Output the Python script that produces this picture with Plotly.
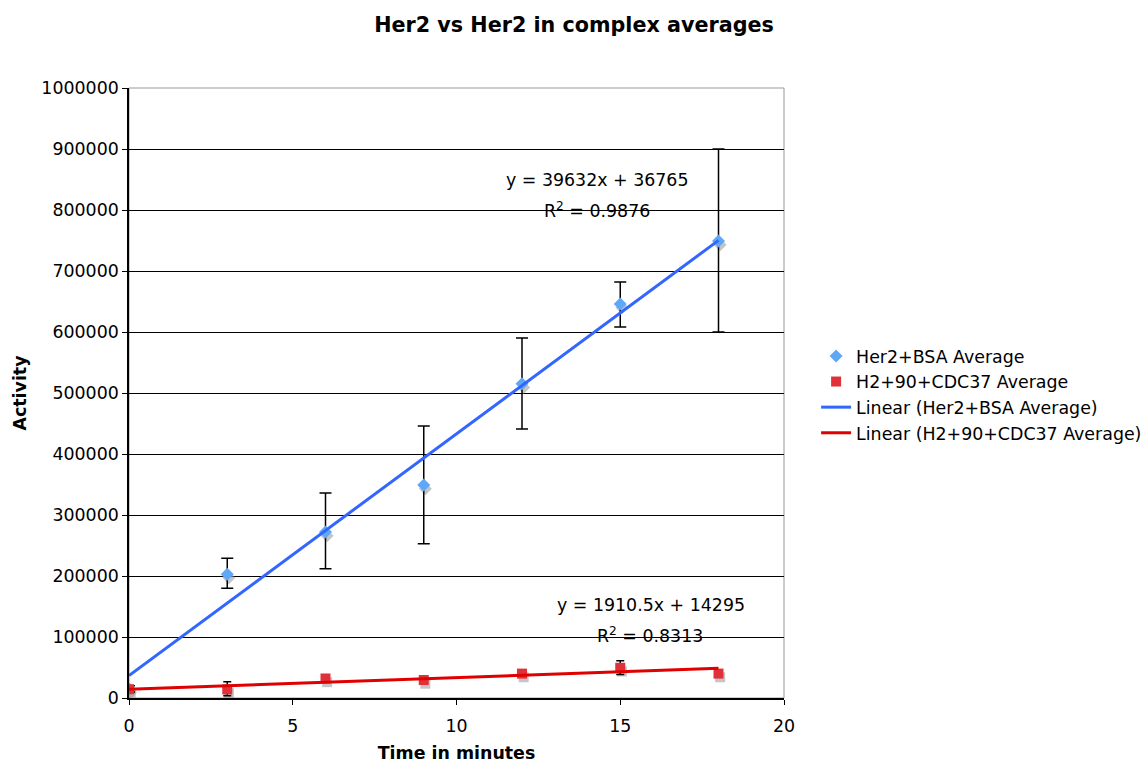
import plotly.graph_objects as go

# ---- data ----
time_min = [0, 3, 6, 9, 12, 15, 18]
her2_bsa = [15000, 203000, 272000, 349000, 515000, 646000, 749000]
her2_bsa_err_plus = [5000, 26000, 64000, 97000, 75000, 36000, 151000]
her2_bsa_err_minus = [5000, 23000, 60000, 96000, 74000, 38000, 149000]
h2_cdc37 = [14500, 14000, 32000, 29500, 40000, 49500, 40000]
h2_cdc37_err_plus = [5000, 12500, 4000, 3500, 5000, 11500, 4500]
h2_cdc37_err_minus = [5000, 10500, 4000, 3500, 5000, 11000, 4500]

# trendline parameters (from chart equations)
blue_slope, blue_intercept, blue_r2 = 39632, 36765, 0.9876
red_slope, red_intercept, red_r2 = 1910.5, 14295, 0.8313
trend_x = [0, 18]

FONT = "DejaVu Sans"
FS = 17.4
SHADOW_DX, SHADOW_DY = 0.05, -6000

fig = go.Figure()

# soft marker shadows
for ys, sym in ((her2_bsa, "diamond"), (h2_cdc37, "square")):
    fig.add_trace(go.Scatter(
        x=[x + SHADOW_DX for x in time_min], y=[y + SHADOW_DY for y in ys],
        mode="markers", showlegend=False, hoverinfo="skip",
        marker=dict(symbol=sym, size=10, color="rgba(150,150,150,0.55)"),
    ))

fig.add_trace(go.Scatter(
    x=time_min, y=her2_bsa, mode="markers", name="Her2+BSA Average",
    marker=dict(symbol="diamond", size=10, color="#5FA8F8"),
    error_y=dict(type="data", symmetric=False, array=her2_bsa_err_plus,
                 arrayminus=her2_bsa_err_minus, color="black", thickness=1.5, width=6),
))
fig.add_trace(go.Scatter(
    x=time_min, y=h2_cdc37, mode="markers", name="H2+90+CDC37 Average",
    marker=dict(symbol="square", size=10, color="#E0313A"),
    error_y=dict(type="data", symmetric=False, array=h2_cdc37_err_plus,
                 arrayminus=h2_cdc37_err_minus, color="black", thickness=1.5, width=4),
))
fig.add_trace(go.Scatter(
    x=trend_x, y=[blue_slope * x + blue_intercept for x in trend_x], mode="lines",
    name="Linear (Her2+BSA Average)", line=dict(color="#3366FF", width=3),
))
fig.add_trace(go.Scatter(
    x=trend_x, y=[red_slope * x + red_intercept for x in trend_x], mode="lines",
    name="Linear (H2+90+CDC37 Average)", line=dict(color="#E00000", width=3),
))

ann_font = dict(family=FONT, size=FS, color="black")
fig.add_annotation(x=14.29, y=849000, text=f"y = {blue_slope}x + {blue_intercept}",
                   showarrow=False, font=ann_font)
fig.add_annotation(x=14.29, y=800000, text=f"R<sup>2</sup> = {blue_r2}",
                   showarrow=False, font=ann_font)
fig.add_annotation(x=15.94, y=152000, text=f"y = {red_slope}x + {red_intercept}",
                   showarrow=False, font=ann_font)
fig.add_annotation(x=15.91, y=103000, text=f"R<sup>2</sup> = {red_r2}",
                   showarrow=False, font=ann_font)

# plot-area border (gray)
fig.add_shape(type="rect", xref="paper", yref="paper", x0=0, y0=0, x1=1, y1=1,
              line=dict(color="#999999", width=1), layer="below")

fig.update_layout(
    width=1148, height=763,
    margin=dict(l=129, r=364, t=88, b=65, autoexpand=False),
    paper_bgcolor="white", plot_bgcolor="white",
    font=dict(family=FONT, size=FS, color="black"),
    title=dict(text="<b>Her2 vs Her2 in complex averages</b>", x=0.5, xref="container",
               xanchor="center", y=0.967, yanchor="middle",
               font=dict(family=FONT, size=20.7)),
    showlegend=True,
    legend=dict(x=1.049, y=0.59, xanchor="left", yanchor="top",
                font=dict(family=FONT, size=FS), bgcolor="rgba(0,0,0,0)",
                tracegroupgap=0),
    xaxis=dict(range=[0, 20], tickvals=[0, 5, 10, 15, 20], showgrid=False,
               showline=True, linecolor="black", linewidth=1.5, automargin=False,
               ticks="outside", ticklen=5, tickcolor="black", zeroline=False,
               tickfont=dict(size=FS), ticklabelstandoff=6,
               title=dict(text="<b>Time in minutes</b>", font=dict(size=FS), standoff=12)),
    yaxis=dict(range=[0, 1000000], dtick=100000, tickformat="d", showgrid=True,
               gridcolor="black", gridwidth=1, showline=True, linecolor="black",
               linewidth=1.5, ticks="outside", ticklen=5, tickcolor="black",
               automargin=False, zeroline=False, tickfont=dict(size=FS),
               title=dict(text="<b>Activity</b>", font=dict(size=FS), standoff=10)),
)

fig.write_html("out.html")
